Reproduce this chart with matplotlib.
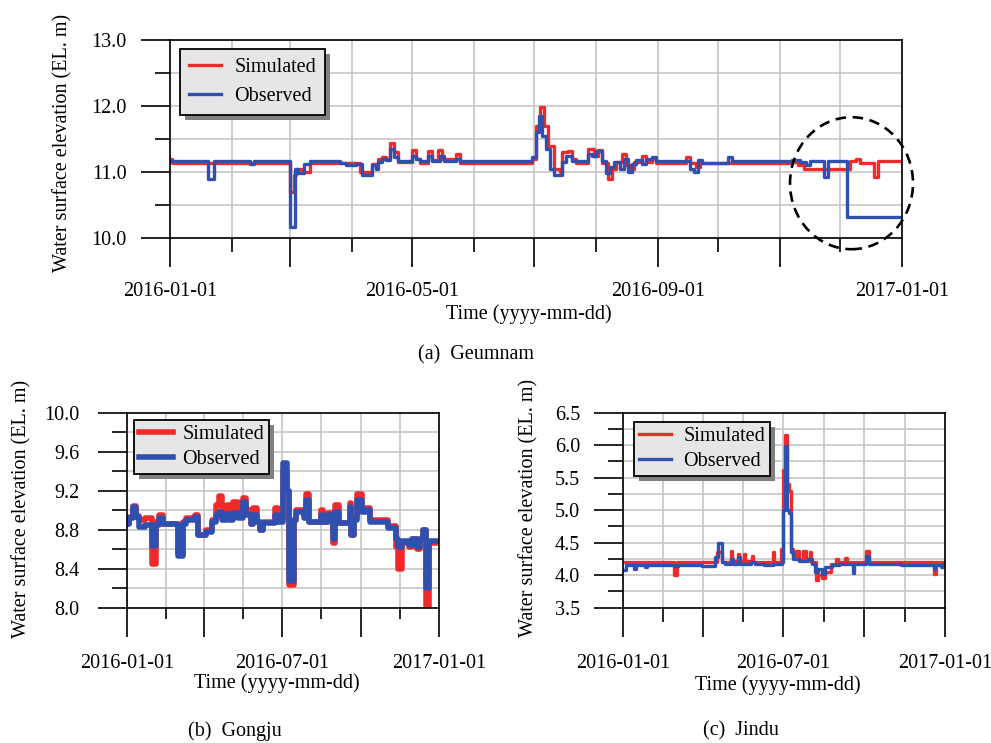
import numpy as np
import pandas as pd
import matplotlib
matplotlib.use("Agg")
import matplotlib.pyplot as plt
import matplotlib.dates as mdates
from matplotlib.patches import Ellipse, Rectangle
from matplotlib.transforms import IdentityTransform

plt.rcParams['font.family'] = ['Liberation Serif', 'DejaVu Serif']

START = pd.Timestamp('2016-01-01')

# ---------------- data (day offset from 2016-01-01, water level EL. m) -------------
geum_obs_day = [0, 19, 22, 40, 42, 60, 62.5, 64, 67, 70, 85, 88, 93, 96, 101, 103, 104, 106, 108, 110,
                112, 114, 121, 123, 125, 129, 131, 135, 137, 143, 145, 181, 183, 184.5, 186, 188, 190, 192,
                196, 198, 201, 209, 211, 213, 216, 218, 220, 222, 225, 227, 229, 231, 233, 236, 238, 241,
                243, 260, 262, 264, 266, 279, 281, 311, 315, 318, 320, 327, 329, 338.5, 366]
geum_obs_val = [11.16, 10.90, 11.16, 11.12, 11.16, 10.16, 11.05, 10.98, 11.12, 11.16, 11.13, 11.10, 11.12,
                10.95, 11.10, 11.05, 11.15, 11.20, 11.18, 11.35, 11.22, 11.16, 11.25, 11.20, 11.16, 11.25,
                11.16, 11.25, 11.16, 11.20, 11.16, 11.22, 11.60, 11.85, 11.55, 11.35, 11.05, 10.95, 11.15,
                11.25, 11.16, 11.28, 11.25, 11.32, 11.16, 10.98, 11.08, 11.15, 11.05, 11.20, 11.00, 11.12,
                11.18, 11.12, 11.20, 11.22, 11.16, 11.05, 11.00, 11.18, 11.14, 11.22, 11.16, 11.18, 11.15,
                11.10, 11.16, 10.92, 11.16, 10.32, 10.32]
geum_sim_day = [0, 1, 60, 62, 63, 66, 70, 95, 101, 104, 106, 108, 110, 112, 114, 121, 123, 125, 129, 131,
                134, 136, 143, 145, 181, 183, 185, 187, 189, 192, 195, 196, 199, 201, 203, 209, 212, 214,
                216, 219, 221, 223, 226, 228, 230, 232, 236, 238, 241, 243, 258, 260, 263, 265, 311, 314,
                317, 340, 343, 345, 352, 354, 366]
geum_sim_val = [11.20, 11.13, 10.70, 10.95, 11.05, 11.00, 11.13, 11.00, 11.12, 11.20, 11.22, 11.20, 11.44,
                11.30, 11.15, 11.33, 11.20, 11.13, 11.32, 11.18, 11.33, 11.20, 11.27, 11.13, 11.20, 11.70,
                11.99, 11.70, 11.40, 11.05, 11.00, 11.30, 11.32, 11.20, 11.13, 11.35, 11.25, 11.33, 11.13,
                10.90, 11.05, 11.15, 11.27, 11.10, 11.05, 11.15, 11.25, 11.15, 11.20, 11.13, 11.22, 11.13,
                11.08, 11.13, 11.15, 11.10, 11.05, 11.16, 11.20, 11.14, 10.92, 11.16, 11.13]

gong_day = [0, 3, 7, 11, 14, 21, 30, 34, 38, 42, 60, 66, 70, 80, 84, 93, 100, 104, 108, 112, 117, 121,
            125, 130, 136, 140, 145, 148, 152, 156, 159, 174, 177, 183, 188, 190, 196, 198, 208, 210, 213,
            227, 230, 236, 241, 244, 248, 261, 263, 266, 270, 275, 280, 285, 306, 315, 318, 322, 330, 334,
            340, 343, 347, 351, 354, 366]
gong_obs_val = [8.86, 8.92, 9.03, 8.93, 8.83, 8.85, 8.63, 8.85, 8.92, 8.86, 8.53, 8.86, 8.90, 8.93, 8.75,
                8.78, 8.88, 8.95, 8.98, 8.90, 8.96, 8.90, 8.97, 8.92, 9.08, 8.95, 8.86, 8.95, 8.88, 8.80,
                8.87, 8.95, 8.88, 9.48, 9.20, 8.27, 8.90, 8.98, 8.92, 9.10, 8.88, 8.95, 8.88, 8.95, 8.70,
                8.98, 8.87, 9.03, 8.75, 8.90, 9.10, 8.98, 9.00, 8.88, 8.82, 8.70, 8.62, 8.68, 8.64, 8.70,
                8.62, 8.70, 8.80, 8.20, 8.68, 8.68]
gong_sim_val = [8.86, 8.93, 9.04, 8.94, 8.90, 8.92, 8.45, 8.88, 8.95, 8.86, 8.55, 8.88, 8.92, 8.95, 8.75,
                8.80, 8.90, 9.05, 9.15, 8.92, 9.05, 8.92, 9.08, 8.95, 9.13, 9.00, 8.86, 9.02, 8.88, 8.80,
                8.88, 9.02, 8.92, 9.40, 9.20, 8.23, 8.90, 9.00, 8.95, 9.17, 8.88, 9.00, 8.88, 8.97, 8.66,
                9.05, 8.87, 9.07, 8.75, 8.92, 9.17, 9.00, 9.02, 8.90, 8.84, 8.62, 8.40, 8.66, 8.62, 8.70,
                8.60, 8.70, 8.80, 8.00, 8.66, 8.66]

jin_obs_day = [0, 3, 12, 14, 25, 27, 58, 62, 90, 104, 108, 112, 116, 123, 125, 131, 133, 145, 150, 160,
               170, 181, 182, 184.5, 186.5, 189, 190.5, 193, 200, 210, 215, 218, 222, 226, 230, 237, 245,
               261, 263, 276, 279, 316, 353, 355, 362, 364, 366]
jin_obs_val = [4.08, 4.15, 4.10, 4.15, 4.12, 4.16, 4.14, 4.16, 4.14, 4.28, 4.50, 4.20, 4.17, 4.25, 4.17,
               4.28, 4.18, 4.20, 4.17, 4.15, 4.18, 4.20, 5.00, 5.98, 5.00, 4.95, 4.35, 4.25, 4.22, 4.25,
               4.18, 4.05, 4.10, 4.02, 4.12, 4.15, 4.17, 4.03, 4.17, 4.30, 4.17, 4.15, 4.10, 4.16, 4.12,
               4.17, 4.17]
jin_sim_day = [0, 58, 61, 107, 112, 122, 124, 130, 132, 137, 139, 146, 148, 170, 172, 179, 181, 182, 184.5,
               186.5, 189, 190.5, 193, 197, 200, 205, 208, 212, 214, 219, 222, 226, 230, 236, 242, 244,
               252, 254, 276, 279, 354, 356, 366]
jin_sim_val = [4.20, 4.00, 4.20, 4.35, 4.20, 4.38, 4.22, 4.33, 4.22, 4.33, 4.22, 4.30, 4.20, 4.35, 4.20,
               4.40, 4.25, 5.62, 6.15, 5.40, 5.30, 4.40, 4.30, 4.38, 4.25, 4.38, 4.25, 4.35, 4.20, 3.93,
               4.00, 3.95, 4.05, 4.18, 4.25, 4.20, 4.27, 4.20, 4.38, 4.20, 4.02, 4.20, 4.20]

series_labels = ['Simulated', 'Observed']
captions = ['(a)  Geumnam', '(b)  Gongju', '(c)  Jindu']
ylabel_text = 'Water surface elevation (EL. m)'
xlabel_text = 'Time (yyyy-mm-dd)'

RED = '#f02a2a'
BLUE = '#3050b0'
GRID = '#c6c6c6'
FS = 14.5


def to_dates(days):
    return START + pd.to_timedelta(np.asarray(days, float), unit='D')


def dnum(s):
    return mdates.date2num(pd.Timestamp(s).to_pydatetime())


W, H = 991, 743
fig = plt.figure(figsize=(W / 100, H / 100), dpi=100)


def px_axes(l, t, r, b):
    return fig.add_axes([l / W, 1 - b / H, (r - l) / W, (b - t) / H])


ax_a = px_axes(170, 40, 902, 238)
ax_b = px_axes(126.7, 412.7, 439.3, 607.7)
ax_c = px_axes(623.3, 412.7, 945, 607.7)


def style(ax, ylim, ymaj, ymin, xmaj, xlabels, xmin, ypad, xpad, lw_ax=1.2):
    ax.set_xlim(dnum('2016-01-01'), dnum('2017-01-01'))
    ax.set_ylim(*ylim)
    ax.set_yticks(ymaj)
    ax.set_yticklabels([f'{v:.1f}' for v in ymaj])
    ax.set_yticks(ymin, minor=True)
    ax.set_xticks([dnum(d) for d in xmaj])
    ax.set_xticklabels(xlabels)
    ax.set_xticks([dnum(d) for d in xmin], minor=True)
    ax.grid(which='both', color=GRID, lw=1.2)
    ax.set_axisbelow(True)
    ax.tick_params(axis='y', which='major', direction='out', length=21, width=lw_ax, pad=ypad, labelsize=FS)
    ax.tick_params(axis='y', which='minor', direction='out', length=10.5, width=lw_ax)
    ax.tick_params(axis='x', which='major', direction='out', length=21, width=lw_ax, pad=xpad, labelsize=FS)
    ax.tick_params(axis='x', which='minor', direction='out', length=10, width=lw_ax)
    for s in ax.spines.values():
        s.set_linewidth(lw_ax)
        s.set_color('black')


# ---- (a) Geumnam
ax_a.plot(to_dates(geum_sim_day), geum_sim_val, drawstyle='steps-post', color=RED, lw=2.4, label=series_labels[0])
ax_a.plot(to_dates(geum_obs_day), geum_obs_val, drawstyle='steps-post', color=BLUE, lw=2.4, label=series_labels[1])
style(ax_a, (10.0, 13.0), [10.0, 11.0, 12.0, 13.0], [10.5, 11.5, 12.5],
      ['2016-01-01', '2016-03-01', '2016-05-01', '2016-07-01', '2016-09-01', '2016-11-01', '2017-01-01'],
      ['2016-01-01', '', '2016-05-01', '', '2016-09-01', '', '2017-01-01'],
      ['2016-02-01', '2016-04-01', '2016-06-01', '2016-08-01', '2016-10-01', '2016-12-01'],
      ypad=10, xpad=11)
ell = Ellipse((dnum('2016-01-01') + 340.75, 10.83), width=61.5, height=2.0, fill=False,
              edgecolor='black', lw=1.9, linestyle=(0, (4, 2.5)), clip_on=False, zorder=6)
ax_a.add_patch(ell)
ax_a.set_ylabel(ylabel_text, fontsize=FS, ha='center', va='center')
ax_a.yaxis.set_label_coords((63 - 170) / 732, (238 - 143) / 198)
ax_a.set_xlabel(xlabel_text, fontsize=FS, ha='center', va='center')
ax_a.xaxis.set_label_coords((529 - 170) / 732, (238 - 314) / 198)

# ---- (b) Gongju
qmaj = ['2016-01-01', '2016-04-01', '2016-07-01', '2016-10-01', '2017-01-01']
qlab = ['2016-01-01', '', '2016-07-01', '', '2017-01-01']
qmin = ['2016-02-15 12:00', '2016-05-16 12:00', '2016-08-16', '2016-11-16']
ax_b.plot(to_dates(gong_day), gong_sim_val, drawstyle='steps-post', color=RED, lw=4.0, label=series_labels[0])
ax_b.plot(to_dates(gong_day), gong_obs_val, drawstyle='steps-post', color=BLUE, lw=4.0, label=series_labels[1])
style(ax_b, (8.0, 10.0), [8.0, 8.4, 8.8, 9.2, 9.6, 10.0], [8.2, 8.6, 9.0, 9.4, 9.8],
      qmaj, qlab, qmin, ypad=13, xpad=12)
ax_b.tick_params(axis='x', which='minor', length=8)
ax_b.set_ylabel(ylabel_text, fontsize=FS, ha='center', va='center')
ax_b.yaxis.set_label_coords((22 - 126.7) / 312.6, (607.7 - 509) / 195)
ax_b.set_xlabel(xlabel_text, fontsize=FS, ha='center', va='center')
ax_b.xaxis.set_label_coords((277 - 126.7) / 312.6, (607.7 - 683) / 195)

# ---- (c) Jindu
ax_c.plot(to_dates(jin_sim_day), jin_sim_val, drawstyle='steps-post', color=RED, lw=2.4, label=series_labels[0])
ax_c.plot(to_dates(jin_obs_day), jin_obs_val, drawstyle='steps-post', color=BLUE, lw=2.4, label=series_labels[1])
style(ax_c, (3.5, 6.5), [3.5, 4.0, 4.5, 5.0, 5.5, 6.0, 6.5], [3.75, 4.25, 4.75, 5.25, 5.75, 6.25],
      qmaj, qlab, qmin, ypad=10, xpad=12)
ax_c.set_ylabel(ylabel_text, fontsize=FS, ha='center', va='center')
ax_c.yaxis.set_label_coords((529 - 623.3) / 321.7, (607.7 - 508) / 195)
ax_c.set_xlabel(xlabel_text, fontsize=FS, ha='center', va='center')
ax_c.xaxis.set_label_coords((778 - 623.3) / 321.7, (607.7 - 685) / 195)

# ---- legends
legs = []
for ax, anchor, bp, ls, hl, htp in [
        (ax_a, ((180 - 170) / 732, (238 - 49) / 198), 0.45, 0.5, 1.6, 0.65),
        (ax_b, ((134 - 126.7) / 312.6, (607.7 - 420) / 195), 0.25, 0.3, 1.7, 0.45),
        (ax_c, ((634 - 623.3) / 321.7, (607.7 - 422) / 195), 0.25, 0.3, 1.6, 0.6)]:
    leg = ax.legend(loc='upper left', bbox_to_anchor=anchor, borderaxespad=0, fancybox=False,
                    facecolor='#e6e6e6', edgecolor='black', framealpha=1, fontsize=FS,
                    borderpad=bp, labelspacing=ls, handlelength=hl, handletextpad=htp)
    leg.get_frame().set_linewidth(1.3)
    legs.append((ax, leg))

# ---- captions
fig.text(476 / W, 1 - 355 / H, captions[0], ha='center', va='center', fontsize=FS)
fig.text(235 / W, 1 - 731 / H, captions[1], ha='center', va='center', fontsize=FS)
fig.text(741 / W, 1 - 731 / H, captions[2], ha='center', va='center', fontsize=FS)

# ---- legend drop shadows
fig.canvas.draw()
renderer = fig.canvas.get_renderer()
for ax, leg in legs:
    bb = leg.get_frame().get_window_extent(renderer)
    sh = Rectangle((bb.x0 + 5, bb.y0 - 5), bb.width, bb.height, transform=IdentityTransform(),
                   facecolor='0.5', edgecolor='none', zorder=4.9, clip_on=False)
    ax.add_artist(sh)

fig.savefig('out.png', dpi=100)
